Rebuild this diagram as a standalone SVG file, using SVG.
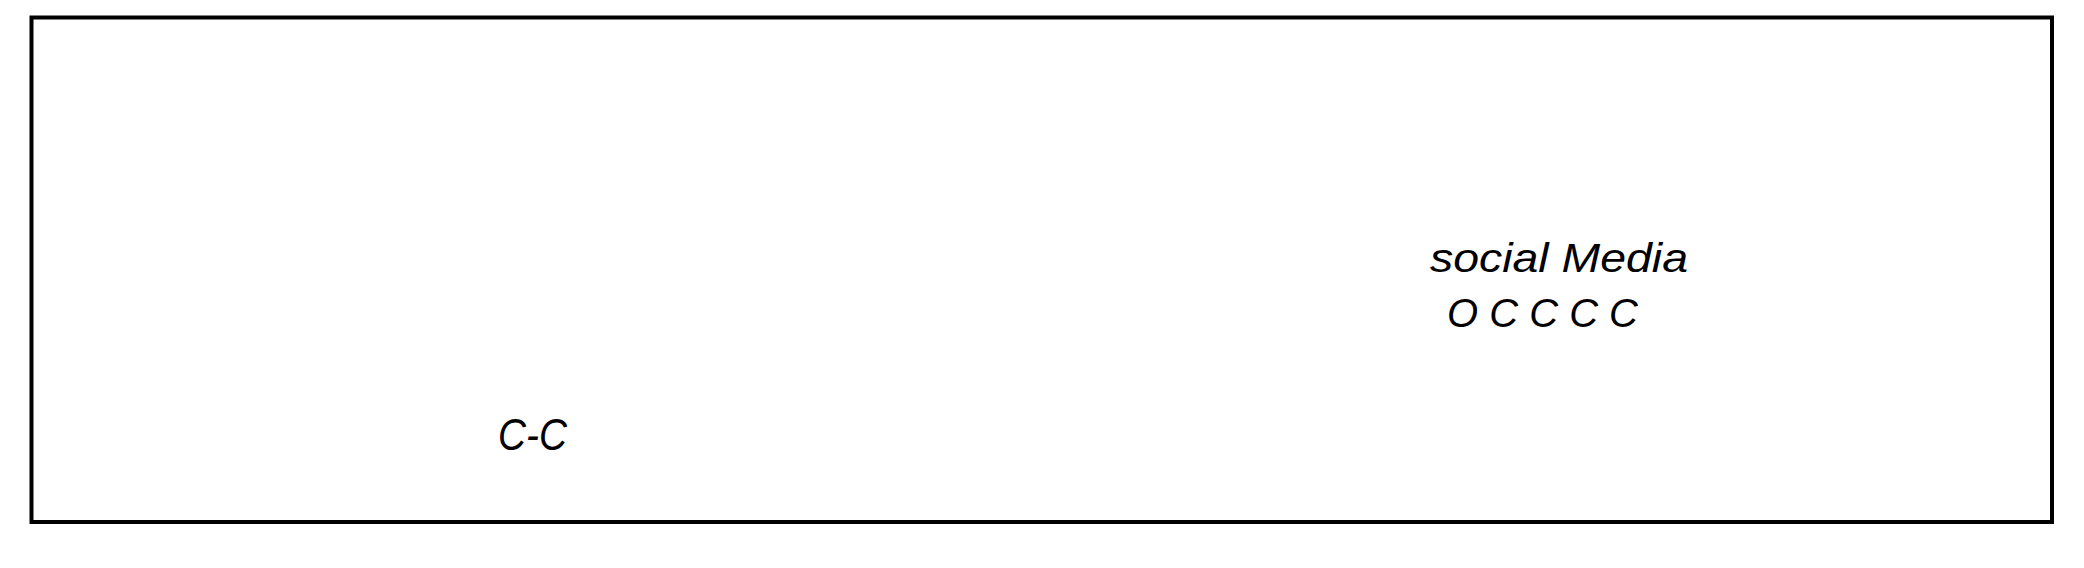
<svg xmlns="http://www.w3.org/2000/svg" width="2084" height="568" viewBox="0 0 2084 568">
<style>
.hand{font-family:"Liberation Sans",Arial,sans-serif;font-style:italic;fill:#000}
</style>
<rect x="0" y="0" width="2084" height="568" fill="#ffffff"/>
<g id="frame">
<rect x="31.5" y="17.5" width="2020.5" height="504.5" fill="none" stroke="#000" stroke-width="4"/>
</g>
<g id="social-media">
<text class="hand" x="1430" y="272" font-size="40" textLength="258" lengthAdjust="spacingAndGlyphs">social Media</text>
<text class="hand" x="1447" y="327" font-size="40" textLength="191" lengthAdjust="spacingAndGlyphs">O C C C C</text>
</g>
<g id="cc">
<text class="hand" x="498" y="450" font-size="44" textLength="69" lengthAdjust="spacingAndGlyphs">C-C</text>
</g>
</svg>
